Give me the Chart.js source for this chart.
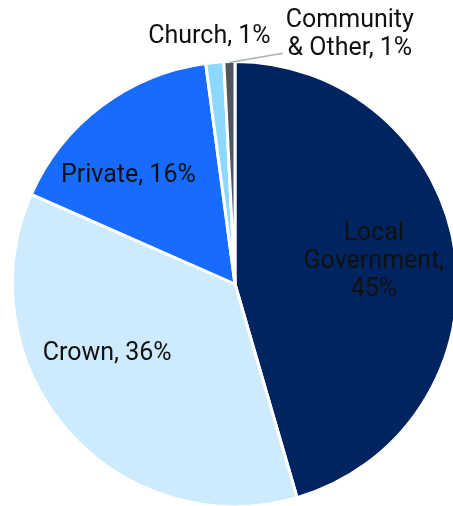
<!DOCTYPE html>
<html>
<head>
<meta charset="utf-8">
<script src="https://cdn.jsdelivr.net/npm/chart.js@4"></script>
<style>
  html, body { margin: 0; padding: 0; background: #ffffff; overflow: hidden; width: 453px; height: 506px; }
  canvas { display: block; }
</style>
</head>
<body>
<canvas id="c" width="470" height="510"></canvas>
<script>
// ---- data ----
const categories = ['Local Government', 'Crown', 'Private', 'Church', 'Community & Other'];
const shares = [45.5, 36.1, 16.3, 1.3, 0.8];
const percentLabels = [45, 36, 16, 1, 1];
const sliceColors = ['#00245F', '#CDEBFD', '#176BFF', '#8DD8FF', '#50575C'];
// word indices after which a label breaks onto a new line
const lineBreaks = [[0, 1], [], [], [], [0]];
// label placement: [angle from 12 o'clock in degrees (clockwise), distance as fraction of radius]
const labelPlacement = [[81, 0.632], [241.5, 0.654], [315.5, 0.684], [354.1, 1.118], [24.7, 1.235]];

function labelLinesFor(i) {
  const words = (categories[i] + ', ' + percentLabels[i] + '%').split(' ');
  const lines = [];
  let cur = [];
  words.forEach((w, k) => {
    cur.push(w);
    if (lineBreaks[i].includes(k)) { lines.push(cur.join(' ')); cur = []; }
  });
  if (cur.length) lines.push(cur.join(' '));
  return lines;
}

const FONT = '25px Roboto';
const LINE_H = 28;

const pieLabels = {
  id: 'pieLabels',
  afterDatasetsDraw(chart) {
    const meta = chart.getDatasetMeta(0);
    const ctx = chart.ctx;
    const cx = meta.data[0].x, cy = meta.data[0].y;
    const r = meta.data[0].outerRadius;
    ctx.save();
    ctx.font = FONT;
    ctx.textAlign = 'center';
    ctx.textBaseline = 'middle';
    meta.data.forEach((arc, i) => {
      const [deg, frac] = labelPlacement[i];
      const a = deg * Math.PI / 180;
      const x = cx + Math.sin(a) * r * frac;
      const y = cy - Math.cos(a) * r * frac;
      const lines = labelLinesFor(i);
      ctx.fillStyle = '#111111';
      lines.forEach((ln, k) => {
        ctx.fillText(ln, x, y + (k - (lines.length - 1) / 2) * LINE_H);
      });
      // leader line for the last small slice
      if (i === categories.length - 1) {
        const mid = (arc.startAngle + arc.endAngle) / 2;
        const sx = cx + Math.cos(mid) * (r - 1);
        const sy = cy + Math.sin(mid) * (r - 1);
        const w = Math.max(...lines.map(l => ctx.measureText(l).width));
        const ex = x - w / 2 - 3;
        const ey = y + LINE_H / 2 + 5;
        ctx.strokeStyle = '#A7AFB8';
        ctx.lineWidth = 1.5;
        ctx.beginPath();
        ctx.moveTo(sx, sy);
        ctx.lineTo(ex, ey);
        ctx.stroke();
      }
    });
    ctx.restore();
  }
};

new Chart(document.getElementById('c'), {
  type: 'pie',
  data: {
    labels: categories,
    datasets: [{
      data: shares,
      backgroundColor: sliceColors,
      borderColor: '#ffffff',
      borderWidth: 3
    }]
  },
  options: {
    responsive: false,
    animation: false,
    devicePixelRatio: 1,
    layout: { padding: { top: 60, bottom: 2, left: 11, right: 11 } },
    plugins: {
      legend: { display: false },
      tooltip: { enabled: false }
    }
  },
  plugins: [pieLabels]
});
</script>
</body>
</html>
